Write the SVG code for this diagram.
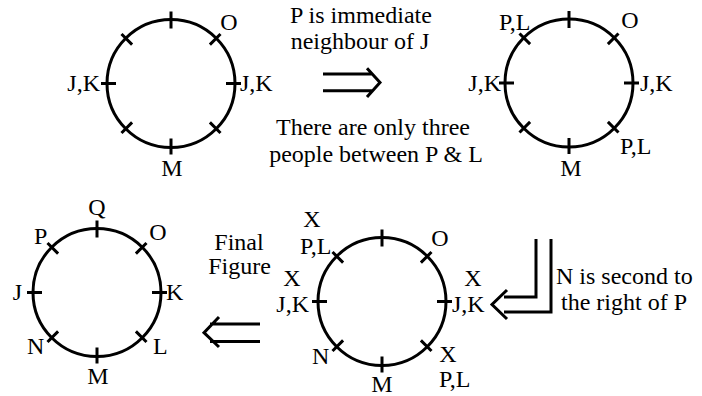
<svg xmlns="http://www.w3.org/2000/svg" xmlns:xlink="http://www.w3.org/1999/xlink" width="702" height="396" viewBox="0 0 702 396">
  <style>
    .ring { fill: none; stroke: #000; stroke-width: 3; }
    .tick { fill: none; stroke: #000; stroke-width: 3; stroke-linecap: butt; }
    .arrow { fill: none; stroke: #000; stroke-width: 3; stroke-linejoin: miter; }
    text { font-family: "Liberation Serif", "DejaVu Serif", serif; font-size: 24px; fill: #000; }
    .mid { text-anchor: middle; }
    .end { text-anchor: end; }
  </style>
  <defs>
    <!-- circular seating with eight seat marks, centred on the origin -->
    <g id="seats">
      <circle class="ring" cx="0" cy="0" r="64"/>
      <path class="tick" d="M55 0H70 M38.9 -38.9L49.5 -49.5 M0 -55V-72 M-38.9 -38.9L-49.5 -49.5 M-55 0H-70 M-38.9 38.9L-49.5 49.5 M0 55V71 M38.9 38.9L49.5 49.5"/>
    </g>
  </defs>

  <rect width="702" height="396" fill="#fff"/>

  <!-- step 1 -->
  <g id="circle-1">
    <use xlink:href="#seats" x="171" y="83.5"/>
    <text class="mid" x="229" y="30">O</text>
    <text class="end" x="100" y="91">J,K</text>
    <text x="240" y="91">J,K</text>
    <text class="mid" x="172" y="176">M</text>
  </g>

  <!-- step 2 -->
  <g id="circle-2">
    <use xlink:href="#seats" x="569" y="83"/>
    <text x="499" y="30">P,L</text>
    <text class="mid" x="630" y="28">O</text>
    <text class="end" x="501" y="91">J,K</text>
    <text x="640" y="91">J,K</text>
    <text x="620" y="154">P,L</text>
    <text class="mid" x="571" y="176">M</text>
  </g>

  <!-- step 3 -->
  <g id="circle-3">
    <use xlink:href="#seats" x="382" y="301.5"/>
    <text class="mid" x="312" y="227">X</text>
    <text x="300" y="254">P,L</text>
    <text class="mid" x="440" y="246">O</text>
    <text class="mid" x="292" y="286">X</text>
    <text class="end" x="309" y="312">J,K</text>
    <text class="mid" x="473" y="286">X</text>
    <text x="452" y="312">J,K</text>
    <text x="312" y="364">N</text>
    <text class="mid" x="448" y="362">X</text>
    <text x="439" y="387">P,L</text>
    <text class="mid" x="382" y="392">M</text>
  </g>

  <!-- final arrangement -->
  <g id="circle-final">
    <use xlink:href="#seats" x="97" y="292.5"/>
    <text class="mid" x="97" y="215">Q</text>
    <text x="34" y="244">P</text>
    <text class="mid" x="158" y="240">O</text>
    <text class="end" x="22" y="300">J</text>
    <text x="166" y="300">K</text>
    <text x="27" y="354">N</text>
    <text x="153" y="354">L</text>
    <text class="mid" x="98" y="384">M</text>
  </g>

  <!-- connectors between the steps -->
  <g id="connectors">
    <g id="arrow-1-2">
      <path class="arrow" d="M323 74H373 M323 90.7H373 M367 68.3L380 82.5L367 97"/>
    </g>
    <g id="arrow-2-3">
      <path class="arrow" d="M536 239V297H504 M551 239V312H504 M507 290L492 304.5L507 319"/>
    </g>
    <g id="arrow-3-final">
      <path class="arrow" d="M260 324H210 M260 341.5H210 M219 317L204 332.7L219 347"/>
    </g>
  </g>

  <!-- rule captions -->
  <g id="captions">
    <text class="mid" x="361" y="22.5">P is immediate</text>
    <text class="mid" x="360" y="48.5">neighbour of J</text>
    <text class="mid" x="373" y="135">There are only three</text>
    <text class="mid" x="376" y="162">people between P &amp; L</text>
    <text x="556" y="284">N is second to</text>
    <text x="561" y="310">the right of P</text>
    <text class="mid" x="239" y="250">Final</text>
    <text class="mid" x="239.5" y="273.5">Figure</text>
  </g>
</svg>
